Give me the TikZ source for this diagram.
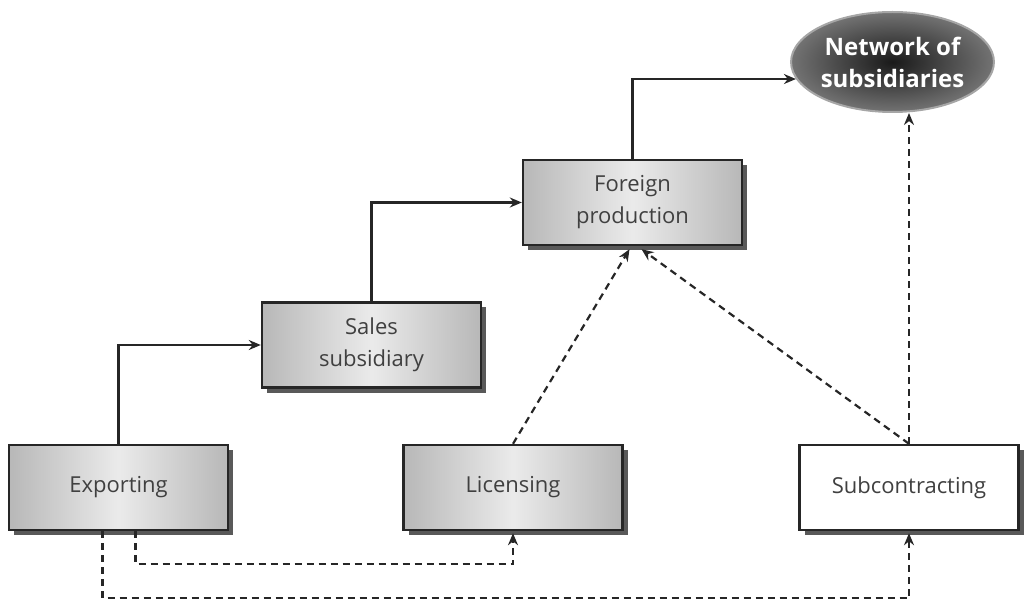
\documentclass[tikz,border=0pt]{standalone}
\usepackage{fontspec}
\setmainfont{Open Sans}
\usetikzlibrary{arrows.meta,shadows,calc,shapes.geometric}
\pgfdeclarehorizontalshading{boxshade}{100bp}{color(0bp)=(black!48); color(25bp)=(black!28); color(50bp)=(black!8); color(75bp)=(black!28); color(100bp)=(black!55)}
\begin{document}
\begin{tikzpicture}[x=1pt,y=1pt,
  box/.style={draw=black!85,line width=2.4pt,minimum width=219pt,minimum height=85pt,
    inner sep=0pt,align=center,font=\fontsize{22}{32}\selectfont,text=black!75,
    drop shadow={shadow xshift=5pt,shadow yshift=-5pt,fill=black!65,opacity=1}},
  graybox/.style={box,shading=boxshade,shading angle=0},
  whitebox/.style={box,fill=white},
  solidarrow/.style={draw=black!85,line width=2.2pt,-{Stealth[length=12pt,width=10pt]}},
  dasharrow/.style={draw=black!85,line width=2.2pt,dash pattern=on 7pt off 5pt,-{Stealth[length=12pt,width=10pt]}}]
\useasboundingbox (0,0) rectangle (1025,-601);
\node[graybox] (exp) at (118.5,-487.5) {Exporting};
\node[graybox] (lic) at (513,-487.5) {Licensing};
\node[whitebox] (sub) at (909,-487.5) {Subcontracting};
\node[graybox] (sales) at (371.5,-345) {Sales\\subsidiary};
\node[graybox] (fp) at (632.5,-202.5) {Foreign\\production};
\node[ellipse,draw=black!35,line width=2pt,minimum width=196pt,minimum height=100pt,
  inner color=black!90,outer color=black!55,text=white,align=center,inner sep=0pt,
  font=\bfseries\fontsize{24}{32}\selectfont] (net) at (892.5,-62) {Network of\\subsidiaries};
\draw[solidarrow] (exp.north) |- (sales.west);
\draw[solidarrow] (sales.north) |- (fp.west);
\draw[solidarrow] (fp.north) |- (net.190);
\draw[dasharrow] (lic.north) -- ($(fp.south)+(-3,-3)$);
\draw[dasharrow] (sub.north) -- ($(fp.south)+(9,-3)$);
\draw[dasharrow] (sub.north) -- (sub.north |- net.south);
\draw[dasharrow] ($(exp.south)+(17,0)$) |- ($(lic.south)+(0,-33)$) -- ($(lic.south)+(0,-2)$);
\draw[dasharrow] ($(exp.south)+(-16,0)$) |- ($(sub.south)+(0,-67)$) -- ($(sub.south)+(0,-2)$);
\end{tikzpicture}
\end{document}
